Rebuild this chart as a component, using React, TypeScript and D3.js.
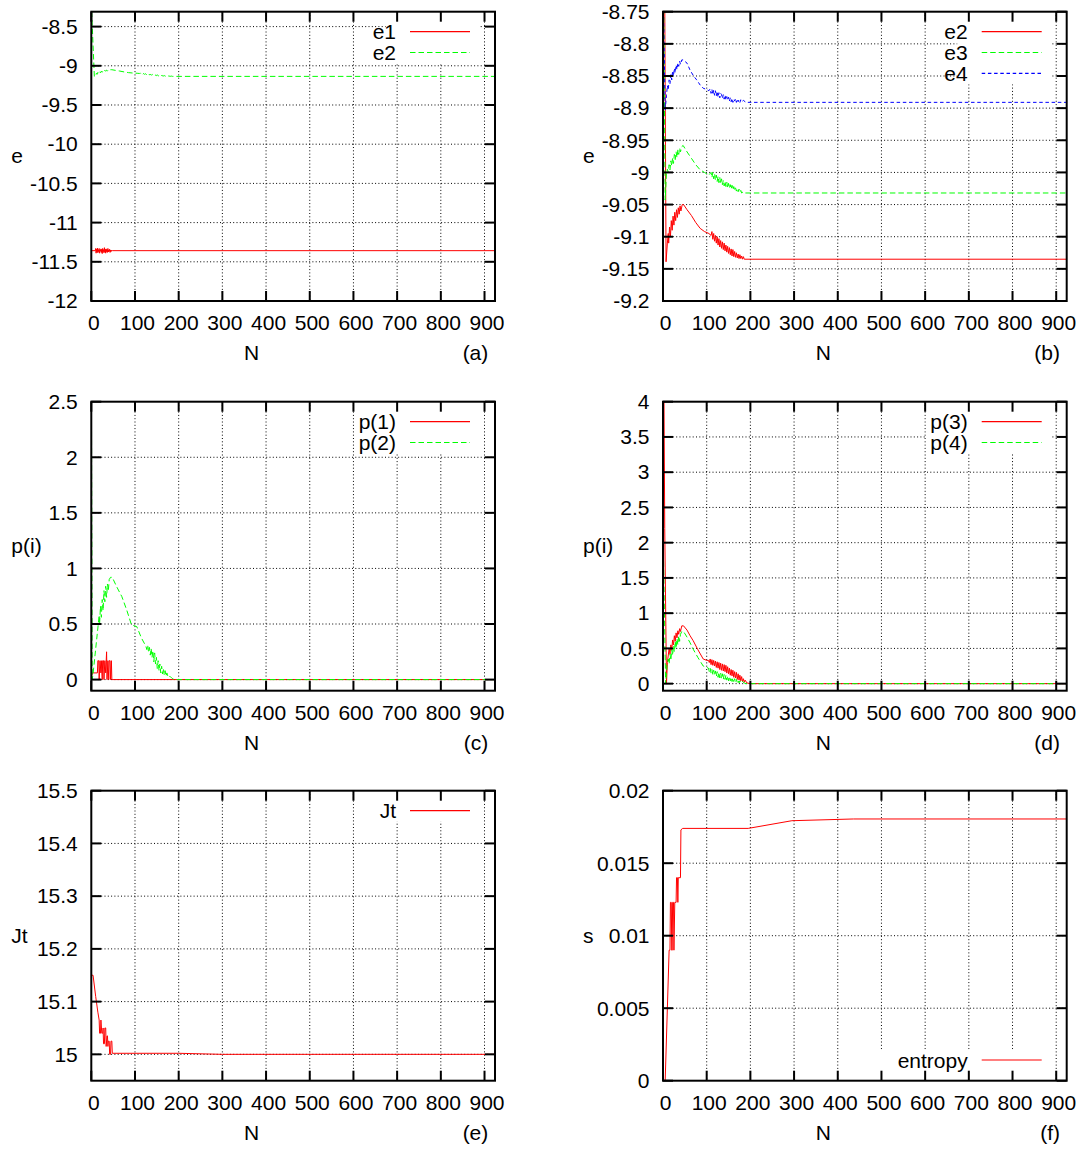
import React from 'react';
import * as d3 from 'd3';

type Pt = [number, number];

// ---- iteration axis ----
const N_MAX = 924;
const xTicks = [0, 100, 200, 300, 400, 500, 600, 700, 800, 900];

// ---- energy levels ----
const e1: Pt[] = [
  [0, -11.358], [9, -11.358], [10, -11.33], [11, -11.39], [12, -11.34], [13, -11.375], [14, -11.325],
  [15, -11.385], [16, -11.345], [17, -11.37], [18, -11.33], [19, -11.39], [20, -11.35], [21, -11.365],
  [22, -11.335], [23, -11.38], [24, -11.34], [25, -11.395], [26, -11.33], [27, -11.37], [28, -11.345],
  [29, -11.385], [30, -11.32], [31, -11.375], [32, -11.34], [33, -11.39], [34, -11.335], [35, -11.37],
  [36, -11.345], [37, -11.38], [38, -11.33], [39, -11.375], [40, -11.35], [41, -11.365], [42, -11.34],
  [43, -11.38], [44, -11.35], [45, -11.37], [46, -11.352], [47, -11.362], [48, -11.358], [924, -11.358],
];

const e2: Pt[] = [
  [0, -8.2], [7, -9.139], [10, -9.11], [12, -9.095], [13, -9.11], [15, -9.085], [17, -9.1], [19, -9.075],
  [21, -9.09], [23, -9.068], [25, -9.082], [27, -9.062], [29, -9.075], [31, -9.058], [33, -9.07],
  [35, -9.055], [37, -9.065], [39, -9.052], [41, -9.06], [44, -9.05], [47, -9.05], [55, -9.058],
  [65, -9.067], [75, -9.078], [85, -9.087], [95, -9.092], [105, -9.095], [110, -9.098],
  [112, -9.092], [114, -9.104], [116, -9.095], [118, -9.107], [120, -9.098], [122, -9.11], [124, -9.1],
  [126, -9.113], [128, -9.103], [130, -9.116], [132, -9.106], [134, -9.118], [136, -9.108], [138, -9.12],
  [140, -9.11], [142, -9.122], [144, -9.113], [146, -9.124], [148, -9.115], [150, -9.126], [152, -9.117],
  [154, -9.128], [156, -9.119], [158, -9.13], [160, -9.12], [162, -9.131], [164, -9.123], [166, -9.132],
  [168, -9.125], [170, -9.133], [172, -9.127], [174, -9.134], [176, -9.128], [178, -9.134], [180, -9.13],
  [182, -9.135], [184, -9.131], [186, -9.135], [190, -9.135], [924, -9.135],
];

const e3: Pt[] = [
  [0, -8.6], [5, -9.043], [8, -9.0], [10, -8.995], [12, -9.0], [14, -8.988], [16, -8.996], [18, -8.982],
  [20, -8.99], [22, -8.977], [24, -8.986], [26, -8.972], [28, -8.98], [30, -8.968], [32, -8.977],
  [34, -8.965], [36, -8.972], [38, -8.962], [40, -8.968], [43, -8.96], [46, -8.958], [55, -8.968],
  [65, -8.978], [75, -8.988], [85, -8.996], [95, -9.0], [105, -9.004],
  [110, -9.0], [112, -9.008], [114, -9.0], [116, -9.01], [118, -9.002], [120, -9.012], [122, -9.004],
  [124, -9.014], [126, -9.006], [128, -9.016], [130, -9.008], [132, -9.018], [134, -9.01], [136, -9.019],
  [138, -9.012], [140, -9.021], [142, -9.014], [144, -9.022], [146, -9.015], [148, -9.024], [150, -9.017],
  [152, -9.025], [154, -9.019], [156, -9.026], [158, -9.02], [160, -9.027], [162, -9.022], [164, -9.028],
  [166, -9.024], [168, -9.029], [170, -9.025], [172, -9.03], [174, -9.026], [176, -9.031], [178, -9.028],
  [180, -9.032], [184, -9.03], [188, -9.032], [924, -9.032],
];

const e4: Pt[] = [
  [0, -8.7], [5, -8.903], [8, -8.88], [10, -8.865], [12, -8.872], [14, -8.856], [16, -8.862], [18, -8.848],
  [20, -8.856], [22, -8.842], [24, -8.85], [26, -8.838], [28, -8.845], [30, -8.833], [32, -8.84],
  [34, -8.83], [36, -8.835], [38, -8.827], [40, -8.832], [43, -8.825], [46, -8.825], [55, -8.83],
  [62, -8.841], [70, -8.85], [77, -8.856], [85, -8.864], [92, -8.869], [100, -8.871], [105, -8.873],
  [108, -8.87], [110, -8.877], [112, -8.871], [114, -8.879], [116, -8.872], [118, -8.88], [120, -8.873],
  [122, -8.881], [124, -8.874], [126, -8.883], [128, -8.876], [130, -8.884], [132, -8.877], [134, -8.879],
  [136, -8.885], [138, -8.879], [140, -8.886], [142, -8.88], [144, -8.887], [146, -8.882], [148, -8.888],
  [150, -8.883], [152, -8.889], [154, -8.884], [156, -8.89], [158, -8.885], [160, -8.891], [162, -8.886],
  [164, -8.889], [166, -8.885], [168, -8.891], [170, -8.886], [172, -8.89], [174, -8.887], [176, -8.891],
  [178, -8.887], [180, -8.89], [184, -8.888], [190, -8.891], [924, -8.891],
];

// ---- occupations ----
const p1: Pt[] = [
  [0, 0], [2, 0.06], [14, 0.06], [15, 0.17], [17, 0.17], [18, 0.0], [20, 0.17], [22, 0.06], [23, 0.17],
  [25, 0.0], [26, 0.17], [28, 0.17], [29, 0.0], [31, 0.17], [33, 0.06], [35, 0.25], [36, 0.0], [38, 0.17],
  [40, 0.0], [41, 0.17], [43, 0.17], [44, 0.0], [46, 0.17], [47, 0.0], [924, 0],
];

const p2: Pt[] = [
  [0, 3.0], [2, 0.0], [4, 0.05], [16, 0.5], [18, 0.58], [19, 0.5], [21, 0.66], [23, 0.56], [25, 0.72],
  [27, 0.62], [29, 0.8], [31, 0.7], [33, 0.84], [35, 0.74], [37, 0.86], [39, 0.8], [41, 0.9], [44, 0.92],
  [48, 0.92], [58, 0.836], [70, 0.746], [81, 0.627], [92, 0.492], [104, 0.477], [115, 0.372], [125, 0.3],
  [127, 0.27], [129, 0.31], [131, 0.25], [133, 0.29], [135, 0.22], [137, 0.28], [139, 0.2], [141, 0.26],
  [143, 0.16], [145, 0.24], [147, 0.14], [149, 0.2], [151, 0.1], [153, 0.17], [155, 0.08], [157, 0.14],
  [159, 0.06], [161, 0.12], [163, 0.05], [165, 0.1], [167, 0.04], [169, 0.08], [171, 0.03], [173, 0.06],
  [176, 0.02], [180, 0.03], [185, 0.01], [190, 0.0], [924, 0],
];

const p3: Pt[] = [
  [0, 4.6], [2, 4.3], [4, 2.2], [8, 0.0], [10, 0.3], [14, 0.5], [16, 0.42], [18, 0.55], [20, 0.48],
  [22, 0.62], [24, 0.55], [26, 0.68], [28, 0.6], [30, 0.72], [32, 0.65], [34, 0.75], [36, 0.7], [38, 0.78],
  [40, 0.74], [43, 0.82], [47, 0.82], [55, 0.76], [62, 0.68], [69, 0.61], [80, 0.48], [92, 0.35],
  [100, 0.33], [104, 0.33], [106, 0.3], [108, 0.35], [110, 0.27], [112, 0.34], [114, 0.26], [116, 0.33],
  [118, 0.25], [120, 0.32], [122, 0.23], [124, 0.31], [126, 0.22], [128, 0.3], [130, 0.2], [132, 0.29],
  [134, 0.19], [136, 0.28], [138, 0.18], [140, 0.27], [142, 0.17], [144, 0.26], [146, 0.15], [148, 0.24],
  [150, 0.14], [152, 0.22], [154, 0.12], [156, 0.2], [158, 0.11], [160, 0.19], [162, 0.09], [164, 0.17],
  [166, 0.08], [168, 0.16], [170, 0.06], [172, 0.14], [174, 0.05], [176, 0.12], [178, 0.04], [180, 0.1],
  [182, 0.03], [184, 0.07], [186, 0.02], [188, 0.05], [192, 0.01], [200, 0.0], [924, 0],
];

const p4: Pt[] = [
  [0, 2.22], [6, 0.0], [9, 0.25], [12, 0.35], [14, 0.28], [16, 0.42], [18, 0.33], [20, 0.48], [22, 0.4],
  [24, 0.54], [26, 0.45], [28, 0.6], [30, 0.5], [32, 0.64], [34, 0.55], [36, 0.68], [38, 0.6], [40, 0.7],
  [43, 0.74], [47, 0.74], [55, 0.66], [62, 0.58], [69, 0.49], [80, 0.37], [92, 0.25], [100, 0.23],
  [104, 0.22], [106, 0.17], [108, 0.22], [110, 0.15], [112, 0.2], [114, 0.13], [116, 0.19], [118, 0.12],
  [120, 0.18], [122, 0.1], [124, 0.17], [126, 0.09], [128, 0.16], [130, 0.08], [132, 0.15], [134, 0.07],
  [136, 0.14], [138, 0.06], [140, 0.13], [142, 0.06], [144, 0.12], [146, 0.05], [148, 0.11], [150, 0.04],
  [152, 0.1], [154, 0.04], [156, 0.09], [158, 0.03], [160, 0.08], [162, 0.03], [164, 0.07], [166, 0.02],
  [168, 0.06], [170, 0.02], [172, 0.05], [174, 0.01], [176, 0.04], [178, 0.01], [182, 0.03], [186, 0.01],
  [190, 0.0], [924, 0],
];

// ---- total angular momentum ----
const jt: Pt[] = [
  [0, 15.15], [4, 15.15], [10, 15.11], [15, 15.08], [18, 15.065], [19, 15.04], [21, 15.04], [22, 15.065],
  [24, 15.04], [26, 15.04], [27, 15.05], [28, 15.02], [30, 15.02], [31, 15.05], [33, 15.05], [34, 15.015],
  [36, 15.035], [37, 15.035], [38, 15.015], [39, 15.025], [41, 15.025], [42, 15.0], [44, 15.0],
  [45, 15.025], [47, 15.025], [48, 15.002], [200, 15.002], [300, 15.0], [924, 15.0],
];

// ---- entropy ----
const entropy: Pt[] = [
  [0, 0], [5, 0], [14, 0.009], [16, 0.009], [17, 0.0123], [19, 0.0123], [20, 0.009], [21, 0.009],
  [22, 0.0123], [24, 0.0123], [25, 0.009], [27, 0.0123], [30, 0.0123], [31, 0.014], [33, 0.014],
  [34, 0.0123], [35, 0.014], [40, 0.014], [41, 0.0173], [45, 0.0174], [195, 0.0174], [295, 0.01793],
  [436, 0.01805], [924, 0.01805],
];

// ---- y-axis ticks ----
const yTicksA = [-12, -11.5, -11, -10.5, -10, -9.5, -9, -8.5];
const yTicksB = [-9.2, -9.15, -9.1, -9.05, -9, -8.95, -8.9, -8.85, -8.8, -8.75];
const yTicksC = [0, 0.5, 1, 1.5, 2, 2.5];
const yTicksD = [0, 0.5, 1, 1.5, 2, 2.5, 3, 3.5, 4];
const yTicksE = [15, 15.1, 15.2, 15.3, 15.4, 15.5];
const yTicksF = [0, 0.005, 0.01, 0.015, 0.02];

const RED = '#ff0000';
const GREEN = '#00ff00';
const BLUE = '#0000ff';
const DASH_LONG = '5.5,3';
const DASH_SHORT = '3.5,2.7';

const FONT = '"Liberation Sans", Arial, Helvetica, sans-serif';
const FONT_SIZE = 21;

const COLS = [
  { left: 91.3, right: 495 },
  { left: 663, right: 1066.7 },
];
const ROWS = [
  { top: 11.7, bottom: 301 },
  { top: 401.7, bottom: 690.7 },
  { top: 790.7, bottom: 1080.7 },
];

type Series = { name: string; data: Pt[]; color: string; dash?: string };
type PanelSpec = {
  tag: string;
  col: number;
  row: number;
  yDomain: [number, number];
  yTicks: number[];
  yLabel: string;
  series: Series[];
  keyAtBottom?: boolean;
};

const panels: PanelSpec[] = [
  {
    tag: '(a)', col: 0, row: 0, yDomain: [-12, -8.31], yTicks: yTicksA, yLabel: 'e',
    series: [
      { name: 'e1', data: e1, color: RED },
      { name: 'e2', data: e2, color: GREEN, dash: DASH_LONG },
    ],
  },
  {
    tag: '(b)', col: 1, row: 0, yDomain: [-9.2, -8.75], yTicks: yTicksB, yLabel: 'e',
    series: [
      { name: 'e2', data: e2, color: RED },
      { name: 'e3', data: e3, color: GREEN, dash: DASH_LONG },
      { name: 'e4', data: e4, color: BLUE, dash: DASH_SHORT },
    ],
  },
  {
    tag: '(c)', col: 0, row: 1, yDomain: [-0.1, 2.5], yTicks: yTicksC, yLabel: 'p(i)',
    series: [
      { name: 'p(1)', data: p1, color: RED },
      { name: 'p(2)', data: p2, color: GREEN, dash: DASH_LONG },
    ],
  },
  {
    tag: '(d)', col: 1, row: 1, yDomain: [-0.1, 4], yTicks: yTicksD, yLabel: 'p(i)',
    series: [
      { name: 'p(3)', data: p3, color: RED },
      { name: 'p(4)', data: p4, color: GREEN, dash: DASH_LONG },
    ],
  },
  {
    tag: '(e)', col: 0, row: 2, yDomain: [14.95, 15.5], yTicks: yTicksE, yLabel: 'Jt',
    series: [{ name: 'Jt', data: jt, color: RED }],
  },
  {
    tag: '(f)', col: 1, row: 2, yDomain: [0, 0.02], yTicks: yTicksF, yLabel: 's',
    series: [{ name: 'entropy', data: entropy, color: RED }],
    keyAtBottom: true,
  },
];

function Panel({ spec, idx }: { spec: PanelSpec; idx: number }) {
  const { left, right } = COLS[spec.col];
  const { top, bottom } = ROWS[spec.row];
  const x = d3.scaleLinear().domain([0, N_MAX]).range([left, right]);
  const y = d3.scaleLinear().domain(spec.yDomain).range([bottom, top]);
  const line = d3.line<Pt>().x((d) => x(d[0])).y((d) => y(d[1]));
  const clipId = `plot-clip-${idx}`;
  const tickLen = 10;

  const inside = (v: number, a: number, b: number) => v > Math.min(a, b) + 1 && v < Math.max(a, b) - 1;

  // key layout
  const rowGap = 20.8;
  const rowsY = spec.series.map((_, i) =>
    spec.keyAtBottom ? bottom - 20.7 - (spec.series.length - 1 - i) * rowGap : top + 20 + i * rowGap
  );
  const textRight = right - 99;
  const maxLen = d3.max(spec.series, (s) => s.name.length) || 1;
  const boxLeft = textRight - maxLen * 15.7 + 21;
  const boxRight = right - 15;
  const boxTop = spec.keyAtBottom ? rowsY[0] - 10.5 : top;
  const boxBottom = spec.keyAtBottom ? bottom : rowsY[rowsY.length - 1] + 11;

  return (
    <g>
      <defs>
        <clipPath id={clipId}>
          <rect x={left} y={top} width={right - left} height={bottom - top} />
        </clipPath>
      </defs>

      {/* grid */}
      <g stroke="#000" strokeWidth={1} strokeDasharray="1,2.3" fill="none">
        {xTicks.filter((t) => inside(x(t), left, right)).map((t) => (
          <line key={`gx${t}`} x1={x(t)} x2={x(t)} y1={top} y2={bottom} />
        ))}
        {spec.yTicks.filter((t) => inside(y(t), top, bottom)).map((t) => (
          <line key={`gy${t}`} x1={left} x2={right} y1={y(t)} y2={y(t)} />
        ))}
      </g>

      {/* curves */}
      <g clipPath={`url(#${clipId})`} fill="none">
        {spec.series.map((s) => (
          <path
            key={s.name}
            d={line(s.data) || ''}
            stroke={s.color}
            strokeWidth={1}
            strokeDasharray={s.dash}
          />
        ))}
      </g>

      {/* key */}
      <rect x={boxLeft} y={boxTop} width={boxRight - boxLeft} height={boxBottom - boxTop} fill="#fff" />
      {spec.series.map((s, i) => (
        <g key={`k${s.name}`}>
          <text x={textRight} y={rowsY[i] + 7.5} textAnchor="end" fontSize={FONT_SIZE} fontFamily={FONT}>
            {s.name}
          </text>
          <line
            x1={right - 85}
            x2={right - 25}
            y1={rowsY[i]}
            y2={rowsY[i]}
            stroke={s.color}
            strokeWidth={1.2}
            strokeDasharray={s.dash}
          />
        </g>
      ))}

      {/* ticks */}
      <g stroke="#000" strokeWidth={2}>
        {xTicks.map((t) => (
          <g key={`tx${t}`}>
            <line x1={x(t)} x2={x(t)} y1={bottom} y2={bottom - tickLen} />
            <line x1={x(t)} x2={x(t)} y1={top} y2={top + tickLen} />
          </g>
        ))}
        {spec.yTicks.map((t) => (
          <g key={`ty${t}`}>
            <line x1={left} x2={left + tickLen} y1={y(t)} y2={y(t)} />
            <line x1={right} x2={right - tickLen} y1={y(t)} y2={y(t)} />
          </g>
        ))}
      </g>

      {/* border */}
      <rect x={left} y={top} width={right - left} height={bottom - top} fill="none" stroke="#000" strokeWidth={2} />

      {/* tick labels */}
      <g fontSize={FONT_SIZE} fontFamily={FONT} fill="#000">
        {xTicks.map((t) => (
          <text key={`lx${t}`} x={x(t) + 2.5} y={bottom + 29} textAnchor="middle">
            {String(t)}
          </text>
        ))}
        {spec.yTicks.map((t) => (
          <text key={`ly${t}`} x={left - 13.5} y={y(t) + 7.3} textAnchor="end">
            {String(t)}
          </text>
        ))}
        <text x={left + 160.4} y={bottom + 59} textAnchor="middle">N</text>
        <text x={right - 6.7} y={bottom + 59} textAnchor="end">{spec.tag}</text>
        <text x={left - 80} y={(top + bottom) / 2 + 7} textAnchor="start">{spec.yLabel}</text>
      </g>
    </g>
  );
}

export default function App() {
  return (
    <svg
      width={1081}
      height={1150}
      viewBox="0 0 1081 1150"
      style={{ position: 'absolute', left: 0, top: 0, background: '#fff' }}
    >
      <rect x={0} y={0} width={1081} height={1150} fill="#fff" />
      {panels.map((p, i) => (
        <Panel key={p.tag} spec={p} idx={i} />
      ))}
    </svg>
  );
}
